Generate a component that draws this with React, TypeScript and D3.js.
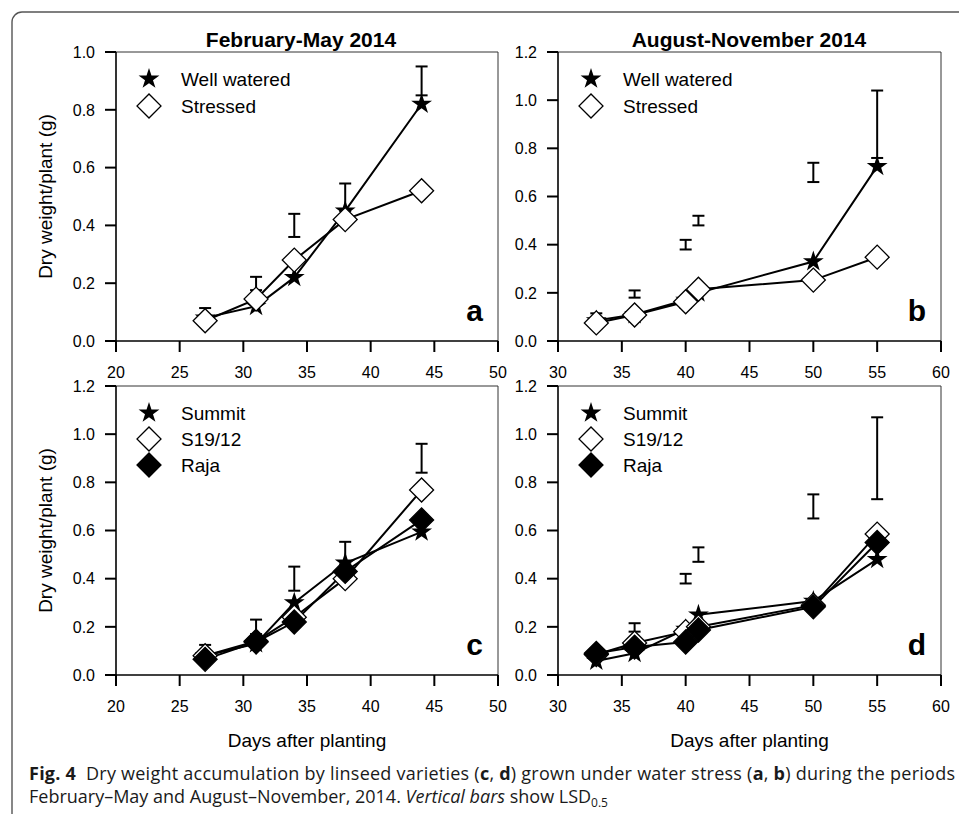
import * as d3 from "d3";

// Days of sampling, per season
const daysFeb = [27, 31, 34, 38, 44];
const daysAug = [33, 36, 40, 41, 50, 55];

// Panel a: water regimes, February-May
const wellWateredFeb = [0.08, 0.12, 0.22, 0.45, 0.82];
const stressedFeb = [0.07, 0.145, 0.28, 0.42, 0.52];
const lsdDaysA = [27, 31, 34, 38, 44];
const lsdLowA = [0.087, 0.176, 0.36, 0.45, 0.85];
const lsdHighA = [0.114, 0.222, 0.44, 0.545, 0.95];

// Panel b: water regimes, August-November
const wellWateredAug = [0.085, 0.11, 0.17, 0.2, 0.33, 0.725];
const stressedAug = [0.075, 0.108, 0.163, 0.215, 0.253, 0.348];
const lsdDaysB = [33, 36, 40, 41, 50, 55];
const lsdLowB = [0.087, 0.18, 0.38, 0.48, 0.66, 0.76];
const lsdHighB = [0.115, 0.21, 0.42, 0.52, 0.74, 1.04];

// Panel c: varieties, February-May
const summitFeb = [0.08, 0.13, 0.3, 0.465, 0.594];
const s1912Feb = [0.08, 0.14, 0.24, 0.4, 0.768];
const rajaFeb = [0.065, 0.137, 0.22, 0.43, 0.644];
const lsdDaysC = [27, 31, 34, 38, 44];
const lsdLowC = [0.09, 0.17, 0.35, 0.46, 0.84];
const lsdHighC = [0.125, 0.23, 0.45, 0.553, 0.96];

// Panel d: varieties, August-November
const summitAug = [0.058, 0.09, 0.19, 0.25, 0.307, 0.48];
const s1912Aug = [0.085, 0.133, 0.18, 0.2, 0.29, 0.585];
const rajaAug = [0.09, 0.116, 0.137, 0.187, 0.283, 0.55];
const lsdDaysD = [36, 40, 41, 50, 55];
const lsdLowD = [0.18, 0.38, 0.47, 0.65, 0.73];
const lsdHighD = [0.215, 0.42, 0.53, 0.75, 1.07];

const xTicksFeb = [20, 25, 30, 35, 40, 45, 50];
const xTicksAug = [30, 35, 40, 45, 50, 55, 60];
const yTicks10 = [0, 0.2, 0.4, 0.6, 0.8, 1.0];
const yTicks12 = [0, 0.2, 0.4, 0.6, 0.8, 1.0, 1.2];

type Kind = "star" | "open" | "filled";
type Series = { name: string; kind: Kind; values: number[] };

const FONT = "'Liberation Sans', Arial, Helvetica, sans-serif";
const starPath = d3.symbol(d3.symbolStar, 135)() ?? "";
const diamondPath = d3.symbol(d3.symbolSquare, 288)() ?? "";

function Marker({ kind, x, y }: { kind: Kind; x: number; y: number }) {
  if (kind === "star") {
    return <path d={starPath} transform={`translate(${x},${y})`} fill="#000" />;
  }
  return (
    <path
      d={diamondPath}
      transform={`translate(${x},${y}) rotate(45)`}
      fill={kind === "filled" ? "#000" : "#fff"}
      stroke="#000"
      strokeWidth={1.3}
    />
  );
}

type PanelProps = {
  left: number;
  right: number;
  top: number;
  bottom: number;
  xDomain: [number, number];
  yMax: number;
  xTicks: number[];
  yTicks: number[];
  days: number[];
  series: Series[];
  lsdDays: number[];
  lsdLow: number[];
  lsdHigh: number[];
  letter: string;
  title?: string;
  titleX?: number;
  yLabel?: boolean;
  xLabel?: boolean;
  legendStep: number;
};

function Panel(p: PanelProps) {
  const x = d3.scaleLinear().domain(p.xDomain).range([p.left, p.right]);
  const y = d3.scaleLinear().domain([0, p.yMax]).range([p.bottom, p.top]);
  const fmt = d3.format(".1f");
  const line = d3
    .line<number>()
    .x((_, i) => x(p.days[i]))
    .y((v) => y(v));

  return (
    <g>
      {p.title && (
        <text x={p.titleX} y={p.top - 5} textAnchor="middle" fontFamily={FONT} fontWeight="bold" fontSize={21}>
          {p.title}
        </text>
      )}
      {/* frame: light top/right, heavy axes */}
      <line x1={p.left} x2={p.right} y1={p.top} y2={p.top} stroke="#333" strokeWidth={1} />
      <line x1={p.right} x2={p.right} y1={p.top} y2={p.bottom} stroke="#333" strokeWidth={1} />
      <line x1={p.left - 11} x2={p.right} y1={p.bottom} y2={p.bottom} stroke="#000" strokeWidth={1.6} />
      <line x1={p.left} x2={p.left} y1={p.top} y2={p.bottom} stroke="#000" strokeWidth={1.6} />
      {p.xTicks.map((t) => (
        <g key={`x${t}`}>
          <line x1={x(t)} x2={x(t)} y1={p.bottom} y2={p.bottom + 11} stroke="#000" strokeWidth={2} />
          <text x={x(t)} y={p.bottom + 37} textAnchor="middle" fontFamily={FONT} fontSize={16}>
            {t}
          </text>
        </g>
      ))}
      {p.yTicks.map((t) => (
        <g key={`y${t}`}>
          <line x1={p.left - 11} x2={p.left} y1={y(t)} y2={y(t)} stroke="#000" strokeWidth={2} />
          <text x={p.left - 21} y={y(t)} dy="0.36em" textAnchor="end" fontFamily={FONT} fontSize={16}>
            {fmt(t)}
          </text>
        </g>
      ))}
      {p.yLabel && (
        <text
          transform={`translate(${p.left - 64},${(p.top + p.bottom) / 2}) rotate(-90)`}
          textAnchor="middle"
          fontFamily={FONT}
          fontSize={19}
        >
          Dry weight/plant (g)
        </text>
      )}
      {p.xLabel && (
        <text x={(p.left + p.right) / 2} y={p.bottom + 72} textAnchor="middle" fontFamily={FONT} fontSize={19}>
          Days after planting
        </text>
      )}
      {/* LSD bars */}
      {p.lsdDays.map((d, i) => (
        <g key={`lsd${d}`} stroke="#000" strokeWidth={2}>
          <line x1={x(d)} x2={x(d)} y1={y(p.lsdLow[i])} y2={y(p.lsdHigh[i])} />
          <line x1={x(d) - 6} x2={x(d) + 6} y1={y(p.lsdLow[i])} y2={y(p.lsdLow[i])} />
          <line x1={x(d) - 6} x2={x(d) + 6} y1={y(p.lsdHigh[i])} y2={y(p.lsdHigh[i])} />
        </g>
      ))}
      {p.series.map((s) => (
        <path key={`l${s.name}`} d={line(s.values) ?? ""} fill="none" stroke="#000" strokeWidth={2} />
      ))}
      {p.series.map((s) => (
        <g key={`m${s.name}`}>
          {s.values.map((v, i) => (
            <Marker key={i} kind={s.kind} x={x(p.days[i])} y={y(v)} />
          ))}
        </g>
      ))}
      {/* legend */}
      {p.series.map((s, i) => (
        <g key={`lg${s.name}`}>
          <Marker kind={s.kind} x={p.left + 33} y={p.top + 27 + i * p.legendStep} />
          <text x={p.left + 65} y={p.top + 27 + i * p.legendStep} dy="0.36em" fontFamily={FONT} fontSize={19}>
            {s.name}
          </text>
        </g>
      ))}
      <text x={p.right - 15} y={p.bottom - 20} textAnchor="end" fontFamily={FONT} fontWeight="bold" fontSize={30}>
        {p.letter}
      </text>
    </g>
  );
}

export default function App() {
  const water = (w: number[], s: number[]): Series[] => [
    { name: "Well watered", kind: "star", values: w },
    { name: "Stressed", kind: "open", values: s },
  ];
  const variety = (a: number[], b: number[], c: number[]): Series[] => [
    { name: "Summit", kind: "star", values: a },
    { name: "S19/12", kind: "open", values: b },
    { name: "Raja", kind: "filled", values: c },
  ];
  const capFont = "'Open Sans', 'Noto Sans', sans-serif";

  return (
    <svg width={959} height={814} style={{ position: "absolute", left: 0, top: 0, background: "#fff" }}>
      <rect x={12} y={12} width={1000} height={900} rx={10} fill="none" stroke="#555" strokeWidth={1.4} />
      <Panel
        left={116} right={498} top={52} bottom={341}
        xDomain={[20, 50]} yMax={1.0} xTicks={xTicksFeb} yTicks={yTicks10}
        days={daysFeb} series={water(wellWateredFeb, stressedFeb)}
        lsdDays={lsdDaysA} lsdLow={lsdLowA} lsdHigh={lsdHighA}
        letter="a" title="February-May 2014" titleX={301} yLabel legendStep={27}
      />
      <Panel
        left={558} right={941} top={52} bottom={341}
        xDomain={[30, 60]} yMax={1.2} xTicks={xTicksAug} yTicks={yTicks12}
        days={daysAug} series={water(wellWateredAug, stressedAug)}
        lsdDays={lsdDaysB} lsdLow={lsdLowB} lsdHigh={lsdHighB}
        letter="b" title="August-November 2014" titleX={749} legendStep={27}
      />
      <Panel
        left={116} right={498} top={386} bottom={675}
        xDomain={[20, 50]} yMax={1.2} xTicks={xTicksFeb} yTicks={yTicks12}
        days={daysFeb} series={variety(summitFeb, s1912Feb, rajaFeb)}
        lsdDays={lsdDaysC} lsdLow={lsdLowC} lsdHigh={lsdHighC}
        letter="c" yLabel xLabel legendStep={26}
      />
      <Panel
        left={558} right={941} top={386} bottom={675}
        xDomain={[30, 60]} yMax={1.2} xTicks={xTicksAug} yTicks={yTicks12}
        days={daysAug} series={variety(summitAug, s1912Aug, rajaAug)}
        lsdDays={lsdDaysD} lsdLow={lsdLowD} lsdHigh={lsdHighD}
        letter="d" xLabel legendStep={26}
      />
      <text
        x={29} y={780} fontFamily={capFont} fontSize={18} fill="#1a1a1a"
        textLength={926} lengthAdjust="spacing" style={{ whiteSpace: "pre" }}
      >
        <tspan fontWeight="bold">Fig. 4</tspan>
        {"  Dry weight accumulation by linseed varieties ("}
        <tspan fontWeight="bold">c</tspan>
        {", "}
        <tspan fontWeight="bold">d</tspan>
        {") grown under water stress ("}
        <tspan fontWeight="bold">a</tspan>
        {", "}
        <tspan fontWeight="bold">b</tspan>
        {") during the periods"}
      </text>
      <text x={29} y={803} fontFamily={capFont} fontSize={18} fill="#1a1a1a" style={{ whiteSpace: "pre" }}>
        {"February\u2013May and August\u2013November, 2014. "}
        <tspan fontStyle="italic">Vertical bars</tspan>
        {" show LSD"}
        <tspan fontSize={12} dy={4}>0.5</tspan>
      </text>
    </svg>
  );
}
